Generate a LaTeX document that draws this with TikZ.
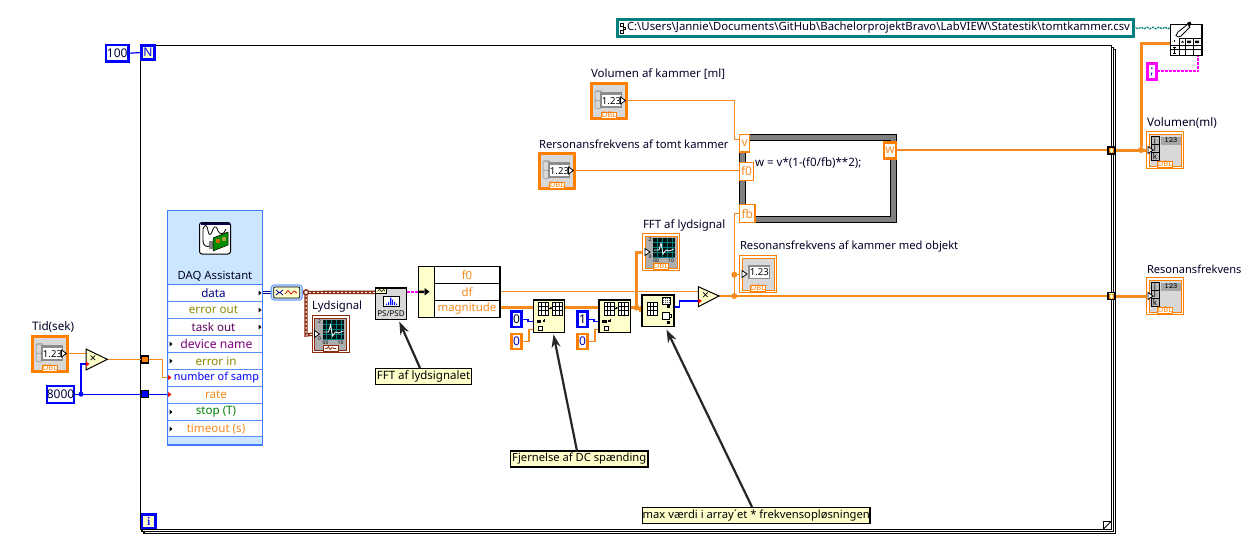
\documentclass[tikz,border=0pt]{standalone}
\usepackage{fontspec}
\setmainfont{Noto Sans}
\usetikzlibrary{arrows.meta,backgrounds,decorations.pathmorphing}
\definecolor{lvor}{HTML}{F58A1F}
\definecolor{lvorb}{HTML}{FF7F00}
\definecolor{lvbl}{HTML}{0000FF}
\definecolor{lvbr}{HTML}{8C2A10}
\definecolor{lvteal}{HTML}{007F7F}
\definecolor{lvmag}{HTML}{FF00FF}
\definecolor{lvyel}{HTML}{FFFFCC}
\definecolor{lvgr}{HTML}{D8D8D8}
\definecolor{daqbg}{HTML}{CCE6FF}
\definecolor{daqln}{HTML}{3F7FFF}
\tikzset{
 x=1pt,y=-1pt,
 every node/.style={inner sep=0pt,outer sep=0pt},
 lbl/.style={anchor=west,text=black!85!blue},
 wire/.style={draw=lvor,line width=1.2pt},
 wirethick/.style={draw=lvor,line width=3pt},
 bluewire/.style={draw=lvbl,line width=1.2pt},
 brwire/.style={draw=lvbr,line width=3.4pt},
 brdots/.style={draw=white,line width=1pt,dash pattern=on 2pt off 2pt},
 magwire/.style={draw=lvmag,line width=2.2pt,dash pattern=on 3pt off 1pt},
 dot/.style={circle,fill=lvor,minimum size=6pt},
 tunnel/.style={draw=black,line width=1.2pt,minimum size=7pt},
 constb/.style={draw=lvbl,line width=2.4pt,fill=white,font=\fontsize{12}{14}\selectfont,text=black!80!blue},
 consto/.style={draw=lvorb,line width=2.4pt,fill=white,font=\fontsize{12}{14}\selectfont,text=blue!70!black},
 note/.style={draw=black,line width=1.2pt,fill=lvyel,font=\fontsize{11.2}{14}\selectfont,text=black},
 notearrow/.style={draw=black!85,line width=2.2pt,-{Stealth[length=13pt,width=9pt]}},
 subvi/.style={draw=black,line width=1.2pt,fill=lvyel},
 loopbox/.style={draw=lvbl,line width=2.4pt,fill=lvyel,font=\fontsize{12}{14}\bfseries\selectfont,text=lvbl},
 fnode/.style={draw=lvorb,line width=1.2pt,fill=white,text=lvor,font=\fontsize{12}{14}\selectfont},
 dtag/.style={draw=lvorb,line width=1pt,fill=white,text=lvorb,font=\fontsize{7.6}{8}\bfseries\selectfont},
 daqt/.style={font=\fontsize{11.6}{14}\selectfont},
 unbt/.style={text=lvor,font=\fontsize{11.4}{14}\selectfont},
}
\newcommand{\lb}[5]{\node[lbl,font=\fontsize{#4}{14}\selectfont] (#1) at (#2,#3) {#5};}
\newcommand{\bx}[7]{\node[#6,minimum width={(#4-#2)*1pt},minimum height={(#5-#3)*1pt}] (#1) at ({(#2+#4)/2},{(#3+#5)/2}) {#7};}
\newcommand{\rterm}[2]{\fill[white,draw=black,line width=.8pt] (#1,#2-3.5) -- (#1+5,#2) -- (#1,#2+3.5) -- cycle;}
\newcommand{\ctlicon}[3]{%
 \node[draw=lvorb,line width=2.6pt,fill=lvgr,minimum size=34.5pt] (#1) at (#2,#3) {};
 \begin{scope}[shift={(#2,#3)}]
  \fill[black!32,rounded corners=2.5pt] (-14.5,-11) rectangle (-6.5,8);
  \fill[white!85!black,rounded corners=2pt] (-13.5,-9) rectangle (-8.5,-1);
  \fill[white!85!black,rounded corners=2pt] (-13.5,0) rectangle (-8.5,7);
  \fill[black!45] (-9,-9) rectangle (13,7);
  \fill[white] (-7,-6) rectangle (12,5);
  \node[font=\fontsize{9.6}{10}\selectfont] (#1n) at (2.5,-.3) {1.23};
  \node[dtag,minimum width=15pt,minimum height=6pt] (#1d) at (0,14) {DBL};
  \rterm{11.5}{-.5}
 \end{scope}
 \coordinate (#1T) at (#2+17,#3-.3);}
\newcommand{\indicon}[3]{%
 \node[draw=lvorb,line width=1pt,fill=white,minimum size=37pt] (#1) at (#2,#3) {};
 \begin{scope}[shift={(#2,#3)}]
  \fill[lvgr,draw=lvorb,line width=.8pt] (-16,-16) rectangle (16,16);
  \fill[black!45] (-10,-9) rectangle (12,5);
  \fill[white] (-8.5,-7) rectangle (11,4);
  \node[font=\fontsize{9.6}{10}\selectfont] (#1n) at (1.3,-1.5) {1.23};
  \node[dtag,minimum width=15pt,minimum height=6pt] (#1d) at (0,14) {DBL};
  \rterm{-16}{0}
 \end{scope}
 \coordinate (#1T) at (#2-16,#3);}
\newcommand{\graphicon}[5]{% name cx cy colour tag
 \node[draw=#4,line width=1pt,fill=white,minimum size=37pt] (#1) at (#2,#3) {};
 \begin{scope}[shift={(#2,#3)}]
  \fill[black!32,draw=#4,line width=.8pt] (-16,-16) rectangle (16,16);
  \fill[black!85!teal] (-8,-14) rectangle (13.5,6);
  \foreach \u in {-4,1,6,11} \draw[teal,line width=.5pt] (\u,-14) -- (\u,6);
  \foreach \u in {-10,-5,0,5} \draw[teal,line width=.5pt] (-8,\u) -- (13.5,\u);
  \draw[white,line width=.8pt] (-7,-2) -- (-2,-2) -- (0,-9) -- (2,2) -- (5,-2) -- (8,-1) -- (13,-3);
  \node[font=\fontsize{5}{5}\bfseries\selectfont] (#1a) at (-11,-12) {2};
  \node[font=\fontsize{5}{5}\bfseries\selectfont] (#1b) at (-11,5) {0};
  \node[font=\fontsize{5}{5}\bfseries\selectfont] (#1c) at (-5,9) {00};
  \node[font=\fontsize{5}{5}\bfseries\selectfont] (#1e) at (10,9) {10};
  \node[draw=#4,line width=1pt,fill=white,text=#4,font=\fontsize{7.6}{8}\bfseries\selectfont,minimum width=15pt,minimum height=6pt] (#1d) at (0,14) {#5};
  \rterm{-16}{0}
 \end{scope}
 \coordinate (#1T) at (#2-16,#3);}
\newcommand{\arricon}[3]{%
 \node[draw=lvorb,line width=1pt,fill=white,minimum size=37pt] (#1) at (#2,#3) {};
 \begin{scope}[shift={(#2,#3)}]
  \fill[lvgr,draw=lvorb,line width=.8pt] (-16,-16) rectangle (16,16);
  \fill[black!28] (-14,-13.5) rectangle (-6,10);
  \draw[black,line width=.7pt] (-14,-13.5) rectangle (-6,10) (-14,-6) -- (-6,-6) (-14,2) -- (-6,2);
  \node[font=\fontsize{8}{8}\selectfont] (#1i) at (-10,-9.8) {i};
  \node[font=\fontsize{8}{8}\selectfont] (#1j) at (-10,-2) {j};
  \node[font=\fontsize{8}{8}\selectfont] (#1k) at (-10,6) {k};
  \node[fill=black!35,font=\fontsize{8}{8}\bfseries\ttfamily\selectfont,minimum width=20pt,minimum height=8pt] (#1v) at (6,-9.5) {123};
  \node[dtag,minimum width=15pt,minimum height=6pt] (#1d) at (0,14) {DBL};
  \rterm{-17}{0}
 \end{scope}
 \coordinate (#1T) at (#2-17,#3);}
\newcommand{\minigrid}[2]{%
 \fill[white] (#1,#2) rectangle (#1+10,#2+13);
 \draw[black,line width=.7pt] (#1,#2) rectangle (#1+10,#2+13)
  (#1+3.3,#2) -- (#1+3.3,#2+13) (#1+6.6,#2) -- (#1+6.6,#2+13)
  (#1,#2+4.3) -- (#1+10,#2+4.3) (#1,#2+8.6) -- (#1+10,#2+8.6);}
\newcommand{\delicon}[2]{%
 \begin{scope}[shift={(#1,#2)}]
  \minigrid{5}{2} \minigrid{19}{2}
  \draw[black,line width=.7pt,-{Stealth[length=2.5pt,width=3pt]}] (15,8) -- (19,8);
  \fill[black] (3,20) rectangle (7.5,23);
  \fill[black] (9,20) rectangle (10.5,21.5);
  \draw[black,line width=.7pt] (11,19) -- (11,22);
  \draw[black,line width=.8pt,fill=white] (5,26) rectangle (9,30);
 \end{scope}}
\newcommand{\tunnelmark}[2]{\draw[lvorb,line width=1.2pt] (#1+1.5,#2-2) -- (#1,#2-2) -- (#1,#2+2) -- (#1+1.5,#2+2) (#1+3,#2-2) -- (#1+4.5,#2-2) -- (#1+4.5,#2+2) -- (#1+3,#2+2);}
\begin{document}
\begin{tikzpicture}
\useasboundingbox (0,0) rectangle (1249,549);

% ---------- palette / controls ----------
\bx{N}{141.5}{45.5}{154.5}{59.5}{loopbox}{N}
\bx{I}{142}{514.5}{155.5}{528}{loopbox}{\fontfamily{lmr}\selectfont i}
\bx{hundred}{106}{45}{128.5}{61.5}{constb}{100}

\bx{path}{617.5}{19.5}{1133.5}{36.5}{draw=lvteal,line width=2.2pt,fill=white}{}
\node[anchor=west,font=\fontsize{11.36}{14}\selectfont,text=black!85!blue] (pathtxt) at (627,28) {C:\textbackslash Users\textbackslash Jannie\textbackslash Documents\textbackslash GitHub\textbackslash BachelorprojektBravo\textbackslash LabVIEW\textbackslash Statestik\textbackslash tomtkammer.csv};
\draw[black,line width=.8pt] (620.5,23) rectangle (623,26) (623,27) rectangle (625.5,29.5) (620.5,30) rectangle (623,33);

\bx{semi}{1147.5}{63.5}{1156.5}{79.5}{draw=lvmag,line width=2.4pt,fill=white,font=\fontsize{12}{14}\bfseries\selectfont,text=blue!70!black}{;}

% write to spreadsheet
\bx{wr}{1170.5}{24.5}{1202}{55.7}{draw=black,line width=1.2pt,fill=white}{}
\draw[black,line width=.7pt] (1179.3,38.7) -- (1202,38.7) (1170.5,45) -- (1202,45) (1170.5,49.3) -- (1202,49.3)
 (1179.3,38.7) -- (1179.3,55.7) (1185.3,38.7) -- (1185.3,55.7) (1193.3,38.7) -- (1193.3,55.7);
\draw[black,line width=.8pt,fill=white] (1178,37) -- (1176,35.5) -- (1178,32) -- (1188,24) -- (1190,27) -- (1181,36) -- cycle;
\fill[black] (1187,23) -- (1190,21.5) -- (1191.5,24) -- (1189,27) -- cycle;
\draw[black,line width=1pt] (1174,40) -- (1174,41.5) (1173,47) -- (1176,47) (1173,53) -- (1176,53) (1174.5,47) -- (1174.5,53);
\fill[black] (1181,42.5) -- (1182.5,40.5) -- (1184,42.5) -- cycle (1187,40.5) rectangle (1191,43) (1195,40.5) rectangle (1199,43);

% controls and indicators
\ctlicon{tid}{50}{354}
\bx{eightk}{47}{386}{74}{403}{constb}{8000}
\ctlicon{volctl}{609}{101}
\ctlicon{resctl}{557}{171}
\graphicon{lydg}{330.5}{334}{lvbr}{\tikz[x=1pt,y=-1pt]\draw[lvbr,line width=.7pt] (0,2) -- (2,2) -- (3.5,0) -- (5,3) -- (7,1) -- (9,2) -- (11,2);}
\graphicon{fftg}{661}{252}{lvorb}{DBL}
\indicon{resind}{758}{274}
\arricon{volarr}{1165}{150}
\arricon{resarr}{1165}{296}

% labels
\lb{l1}{32}{327}{11.7}{Tid(sek)}
\lb{l2}{312}{307}{11.3}{Lydsignal}
\lb{l3}{643}{225}{11.45}{FFT af lydsignal}
\lb{l4}{591}{74}{11.5}{Volumen af kammer [ml]}
\lb{l5}{539}{144}{11.25}{Rersonansfrekvens af tomt kammer}
\lb{l6}{740}{247}{11.2}{Resonansfrekvens af kammer med objekt}
\lb{l7}{1147}{123}{11.7}{Volumen(ml)}
\lb{l8}{1147}{269}{11.05}{Resonansfrekvens}

% DAQ assistant
\bx{daq}{167.5}{210.5}{262.5}{445}{draw=daqln,line width=1.2pt,fill=daqbg}{}
\draw[black,line width=1pt,fill=white,rounded corners=2.5pt] (199.5,222.5) rectangle (230.5,254);
\fill[black!50!blue!60!black] (200.5,223) rectangle (229.5,225);
\draw[black,line width=.8pt] (203,240) -- (203,229) .. controls (205,224) and (207,224) .. (208,231) .. controls (209,236) and (211,236) .. (213,229) .. controls (215,225) and (217,227) .. (218,231) .. controls (220,235) and (224,235) .. (226,229);
\draw[black,line width=.9pt] (203,240) .. controls (203,247) and (207,247) .. (211,246);
\fill[black!50] (209,241) rectangle (213,249);
\fill[green!55!black,draw=black,line width=.5pt] (213,238) -- (228,232) -- (228,245) -- (213,251) -- cycle;
\fill[orange!80!black] (216,239) rectangle (220,243);
\fill[yellow!60!black] (222,237) rectangle (226,241);
\node[font=\fontsize{11.3}{14}\selectfont,text=black!85!blue] (daqtitle) at (215,276) {DAQ Assistant};
\foreach \yy in {284.5,301.5,318.5,335.5,352.5,369.5,386.5,403.5,420.5,436.5}
 \draw[daqln,line width=1.1pt] (168,\yy) -- (262,\yy);
\fill[white] (168.5,285) rectangle (261.8,301) (168.5,302) rectangle (261.8,318) (168.5,319) rectangle (261.8,335) (168.5,336) rectangle (261.8,352) (168.5,353) rectangle (261.8,369) (168.5,370) rectangle (261.8,386) (168.5,387) rectangle (261.8,403) (168.5,404) rectangle (261.8,420) (168.5,421) rectangle (261.8,436);
\node[daqt,text=blue!50!black] (r1) at (213.5,293) {data};
\node[daqt,text=olive] (r2) at (213.5,310) {error out};
\node[daqt,text=violet!70!black] (r3) at (213.5,327) {task out};
\node[daqt,text=violet,font=\fontsize{12.2}{14}\selectfont] (r4) at (216.5,344) {device name};
\node[daqt,text=olive] (r5) at (216,361) {error in};
\node[daqt,text=lvbl,font=\fontsize{10.9}{14}\selectfont] (r6) at (216.5,378) {number of samp};
\node[daqt,text=lvor] (r7) at (216,395) {rate};
\node[daqt,text=green!50!black] (r8) at (216,412) {stop (T)};
\node[daqt,text=lvor] (r9) at (216,429) {timeout (s)};
\foreach \yy in {293,310,327} \fill[black] (258.5,\yy-2.5) -- (261.5,\yy) -- (258.5,\yy+2.5) -- cycle;
\foreach \yy in {344,361,412,429} \fill[black] (169.5,\yy-2.5) -- (172.5,\yy) -- (169.5,\yy+2.5) -- cycle;
\foreach \yy in {377.5,394.5} \fill[red] (168,\yy-2.5) -- (171.5,\yy) -- (168,\yy+2.5) -- cycle;

% conversion node
\node[draw=daqln!70,line width=1.2pt,fill=daqbg,rounded corners=3pt,minimum width=31pt,minimum height=15pt] (conv) at (286.7,292.5) {};
\node[draw=black,line width=.8pt,fill=lvyel,rounded corners=1pt,minimum width=26pt,minimum height=11pt] (convi) at (286.7,292.5) {};
\draw[blue!60!black,line width=.8pt] (276,290) -- (279,292.5) -- (276,295) (283,290) -- (280,292.5) -- (283,295);
\draw[red!80!black,line width=.7pt] (285,294) -- (288,290.5) -- (291,294) -- (294,291) -- (297,293);

% PS/PSD
\bx{psd}{375.7}{288}{406.5}{319.5}{draw=black,line width=1.2pt,fill=lvgr}{}
\bx{psdtag}{375.7}{288}{386.7}{293.3}{draw=black,line width=.7pt,fill=lvyel}{}
\draw[black,line width=.6pt] (377.5,291.5) -- (379.5,289.5) -- (381.5,291.5) -- (383.5,289.5) -- (385,291);
\bx{psdscr}{383.3}{296}{399}{306.7}{draw=black,line width=1pt,fill=white}{}
\fill[blue] (386,303.5) rectangle (387,305) (388,302) rectangle (389,305) (390,297.5) rectangle (391.3,305) (392,299.5) rectangle (393,305) (394,302) rectangle (395,305) (396,303.5) rectangle (397,305);
\node[font=\fontsize{8}{8}\bfseries\selectfont] (psdtxt) at (391,313.5) {PS/PSD};

% unbundle
\bx{unb}{418.5}{266.5}{500}{317.5}{draw=black,line width=1.2pt,fill=white}{}
\bx{unbl}{418.5}{266.5}{434.7}{317.5}{draw=black,line width=1.2pt,fill=lvyel}{}
\draw[black,line width=1.2pt] (434.7,283.3) -- (500,283.3) (434.7,300.3) -- (500,300.3);
\fill[black] (418.5,290.5) rectangle (425,293) (424.5,288) -- (429.5,291.7) -- (424.5,295.5) -- cycle;
\node[unbt] (f0) at (467,275) {f0};
\node[unbt] (df) at (467,292) {df};
\node[unbt] (mag) at (467,309) {magnitude};
\coordinate (dfout) at (500,291.5);
\coordinate (magout) at (500,307.7);

% subvis
\bx{del1}{533.5}{300}{564.7}{332.7}{subvi}{}
\delicon{533.5}{300}
\bx{del2}{599}{300}{630.7}{332.7}{subvi}{}
\delicon{599}{300}
\bx{maxb}{642}{295}{674}{326.7}{subvi}{}
\begin{scope}[shift={(642,295)}]
 \minigrid{5}{7}
 \fill[white] (20,2) rectangle (28,9);
 \draw[black,line width=.6pt] (20,2) rectangle (28,9);
 \foreach \u in {21,23,25,27} \foreach \v in {3,5,7} \fill[black!70] (\u,\v) rectangle (\u+1,\v+1);
 \fill[black] (25,10) rectangle (28,13);
 \draw[black,line width=.7pt,fill=white] (20,17) rectangle (27,24);
 \fill[black] (25,26) rectangle (28,29);
 \draw[black,line width=.6pt] (27,19) -- (29,19) -- (29,22) -- (27,22);
\end{scope}
\bx{c0a}{511.5}{311.5}{521.5}{327}{constb}{0}
\bx{v0a}{511.5}{334}{521.5}{349}{consto}{0}
\bx{c1b}{577.5}{311.5}{587.5}{327}{constb}{1}
\bx{v0b}{577.5}{334}{587.5}{349}{consto}{0}

% multiply
\coordinate (m1a) at (86,349); \coordinate (m1b) at (86,370); \coordinate (m1c) at (107.3,359.3);
\fill[lvyel,draw=black,line width=1pt] (m1a) -- (m1c) -- (m1b) -- cycle;
\node[font=\fontsize{12}{12}\bfseries\selectfont] (m1x) at (93,359.5) {×};
\coordinate (m2a) at (698.3,286.7); \coordinate (m2b) at (698.3,306.7); \coordinate (m2c) at (719,296);
\fill[lvyel,draw=black,line width=1pt] (m2a) -- (m2c) -- (m2b) -- cycle;
\node[font=\fontsize{12}{12}\bfseries\selectfont] (m2x) at (705.5,296.5) {×};
\fill[red] (86,361.5) -- (89.5,364) -- (86,366.5) -- cycle;
\fill[red] (698.3,298.5) -- (701.8,301) -- (698.3,303.5) -- cycle;

% formula node
\bx{fml}{742}{137}{893.7}{219.7}{draw=black!50,line width=6pt,fill=white}{}
\draw[black,line width=1pt] (739.3,134) rectangle (896.7,222.7);
\draw[black,line width=.8pt] (745.3,140) rectangle (890.7,216.7);
\node[anchor=west,font=\fontsize{11.55}{14}\selectfont,text=black!85!blue] (fmltxt) at (755,163) {w = v*(1-(f0/fb)**2);};
\bx{vn}{739.5}{134.5}{749.7}{152}{fnode}{v}
\bx{f0n}{739.5}{162.5}{753.7}{180.3}{fnode}{f0}
\bx{fbn}{739.5}{204.5}{755}{222.5}{fnode}{fb}
\bx{wn}{884}{142.5}{896}{158.5}{fnode,line width=2.4pt}{w}

% tunnels
\bx{tOr}{141.2}{356}{148.2}{363}{tunnel,fill=lvorb,minimum size=0pt}{}
\bx{tBl}{141.2}{390.7}{148.2}{397.7}{tunnel,fill=lvbl,minimum size=0pt}{}
\bx{tV}{1108}{147}{1115}{154}{tunnel,fill=lvyel,minimum size=0pt}{}
\bx{tR}{1108}{292.7}{1115}{299.7}{tunnel,fill=lvyel,minimum size=0pt}{}
\tunnelmark{1109.2}{150.5}
\tunnelmark{1109.2}{296.2}

% notes
\bx{n1}{375.5}{368.5}{471.5}{384.5}{note,font=\fontsize{11.5}{14}\selectfont}{FFT af lydsignalet}
\bx{n2}{510.5}{451}{648}{467}{note}{Fjernelse af DC spænding}
\bx{n3}{642.5}{507.5}{870}{523.5}{note}{max værdi i array´et * frekvensopløsningen}
\coordinate (n1a) at (420,368);
\coordinate (n1t) at (399.3,321.5);
\coordinate (n2a) at (577,451);
\coordinate (n2t) at (553.5,334.5);
\coordinate (n3a) at (752,507);
\coordinate (n3t) at (666.5,329.5);
\draw[notearrow] (n1a) -- (n1t);
\draw[notearrow] (n2a) -- (n2t);
\draw[notearrow] (n3a) -- (n3t);

% junctions
\node[circle,fill=lvbl,minimum size=5pt] (j8k) at (81,394.2) {};
\node[dot] (jfft) at (636.7,307.7) {};
\node[dot] (jres) at (734.3,274.7) {};
\node[dot] (jm) at (734.3,296) {};
\node[dot] (jv) at (1141,150) {};
\node[circle,draw=lvbr,line width=1.4pt,fill=white,minimum size=5pt] (jw) at (306,292.3) {};

% ---------- background: frame and wires ----------
\begin{scope}[on background layer]
 \fill[white] (0,0) rectangle (1249,549);
 \draw[black,line width=1.5pt,fill=white] (140.7,45.7) rectangle (1111.5,529.3);
 \draw[black,line width=1.3pt] (1111.5,47.7) -- (1113.5,47.7) -- (1113.5,531.3) -- (142,531.3) -- (142,529.3);
 \draw[black,line width=1.3pt] (1113.5,49.7) -- (1115.7,49.7) -- (1115.7,533.5) -- (144,533.5) -- (144,531.3);
 \draw[black,line width=1pt,fill=white] (1103.5,529) -- (1103.5,521) -- (1111.5,521);
 \draw[black,line width=1pt] (1103.5,529) -- (1111.5,521);
 \draw[bluewire] (hundred.east) -- (N.west);
 \draw[wire] (tidT) -- (m1a |- tidT);
 \draw[wire] (m1c) -- (tOr.west |- m1c) (tOr.east |- m1c) -- (162.3,359.3) -- (162.3,377.5) -- (168,377.5);
 \draw[bluewire] (eightk.east) -- (tBl.west |- eightk.east) (tBl.east |- eightk.east) -- (168,394.5);
 \draw[bluewire] (j8k) -- (81,364) -- (86,364);
 % data wire
 \draw[blue!60!black,line width=1pt,double=white,double distance=1pt] (daq.east |- r1) ++(0,-.5) -- (conv.west);
 % waveform wires
 \draw[brwire] (conv.east) -- (psd.west |- jw);
 \draw[brwire] (jw) -- (306,335) -- (lydgT);
 \draw[brdots] (jw) -- (psd.west |- jw);
 \draw[brdots] (jw) -- (306,335) -- (lydgT);
 \draw[magwire] (psd.east |- jw) -- (unb.west |- jw);
 % unbundle outputs
 \draw[wire] (dfout) -- (m2a |- dfout);
 \draw[wirethick] (magout) -- (del1.west |- magout);
 \draw[wirethick] (del1.east |- magout) -- (del2.west |- magout);
 \draw[wirethick] (del2.east |- magout) -- (jfft) -- (640,307.7) -- (640,310.7) -- (642,310.7);
 \draw[wirethick] (jfft) -- (636.7,252) -- (fftgT);
 \draw[bluewire] (674,307) -- (679.5,307) -- (679.5,301) -- (698.3,301);
 % constants
 \draw[bluewire] (521.5,319.5) -- (528,319.5) -- (528,321.7) -- (533.5,321.7);
 \draw[wire] (521.5,341.7) -- (529,341.7) -- (529,329.3) -- (533.5,329.3);
 \draw[bluewire] (587.5,319.5) -- (594,319.5) -- (594,321.7) -- (599,321.7);
 \draw[wire] (587.5,341.7) -- (595,341.7) -- (595,329.3) -- (599,329.3);
 % formula inputs
 \draw[wire] (volctlT) -- (734.3,100.7) -- (734.3,139.5) -- (739.5,139.5);
 \draw[wire] (resctlT) -- (f0n.west |- resctlT);
 \draw[wire] (739.5,213.3) -- (734.3,213.3) -- (jm);
 \draw[wire] (jres) -- (resindT);
 \draw[wire] (m2c) -- (tR.west |- m2c);
 \draw[wire] (896,150) -- (1108,150);
 \draw[wirethick] (1115,150) -- (volarrT);
 \draw[wirethick] (1115,296) -- (resarrT);
 \draw[wirethick] (jv) -- (1141,43.5) -- (1170.5,43.5);
 \draw[lvteal,line width=1.3pt,dash pattern=on 2pt off 1pt,decorate,decoration={zigzag,segment length=6pt,amplitude=.8pt}] (1133.5,28) -- (1170.5,28);
 \draw[magwire] (1156.5,70.7) -- (1198.3,70.7) -- (1198.3,55.7);
\end{scope}
\end{tikzpicture}
\end{document}
